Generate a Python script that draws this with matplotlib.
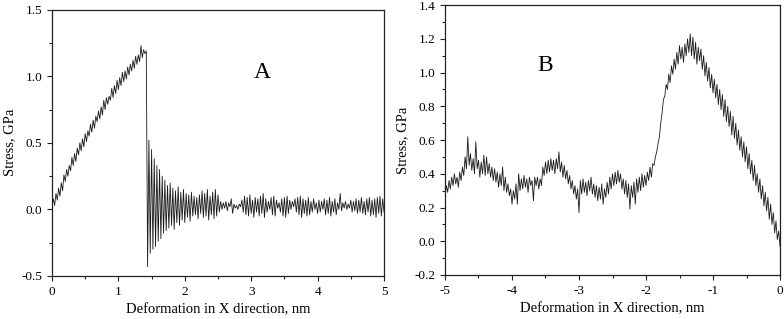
import matplotlib
matplotlib.use('Agg')
import matplotlib.pyplot as plt
import numpy as np
from matplotlib.ticker import MultipleLocator

plt.rcParams['font.family'] = ['Liberation Serif', 'DejaVu Serif']
plt.rcParams['axes.unicode_minus'] = False

# panel A: stress vs deformation (0..5 nm, step 0.02)
stress_a = [
    0.02, 0.08, 0.03, 0.12, 0.07, 0.16, 0.10, 0.20, 0.14, 0.26, 0.21, 0.30, 0.25, 0.33, 0.29, 0.39,
    0.33, 0.42, 0.36, 0.46, 0.41, 0.50, 0.44, 0.53, 0.47, 0.57, 0.51, 0.59, 0.55, 0.64, 0.58, 0.67,
    0.61, 0.70, 0.66, 0.74, 0.68, 0.77, 0.71, 0.82, 0.75, 0.84, 0.79, 0.85, 0.82, 0.91, 0.84, 0.93,
    0.87, 0.97, 0.90, 0.99, 0.93, 1.03, 0.96, 1.04, 0.98, 1.07, 1.01, 1.09, 1.04, 1.12, 1.06, 1.15,
    1.09, 1.16, 1.11, 1.23, 1.14, 1.20, 1.17, 1.19, -0.43, 0.52, -0.33, 0.45, -0.30, 0.38, -0.28, 0.33,
    -0.24, 0.30, -0.22, 0.25, -0.18, 0.22, -0.16, 0.18, -0.14, 0.20, -0.12, 0.16, -0.15, 0.14, -0.10, 0.17,
    -0.12, 0.13, -0.08, 0.15, -0.10, 0.12, -0.06, 0.11, -0.09, 0.13, -0.05, 0.10, -0.04, 0.09, -0.07, 0.11,
    -0.03, 0.14, -0.06, 0.12, -0.05, 0.15, -0.08, 0.10, -0.04, 0.13, -0.07, 0.15, -0.05, 0.11, -0.02, 0.06,
    0.00, 0.05, 0.01, 0.06, -0.01, 0.05, 0.02, 0.08, -0.03, 0.04, 0.01, 0.03, 0.00, 0.04, 0.02, 0.07,
    -0.02, 0.10, -0.04, 0.09, -0.05, 0.11, -0.03, 0.07, -0.06, 0.09, -0.02, 0.08, -0.05, 0.10, -0.03, 0.12,
    -0.06, 0.08, -0.02, 0.06, 0.00, 0.09, -0.04, 0.10, -0.05, 0.07, 0.01, 0.05, -0.02, 0.08, -0.05, 0.09,
    -0.06, 0.10, -0.03, 0.07, 0.00, 0.06, 0.02, 0.08, -0.02, 0.09, -0.04, 0.10, -0.06, 0.08, -0.03, 0.07,
    -0.05, 0.09, -0.04, 0.06, -0.02, 0.08, 0.00, 0.05, -0.03, 0.07, -0.02, 0.06, 0.00, 0.08, -0.04, 0.07,
    -0.03, 0.09, -0.05, 0.06, -0.02, 0.08, -0.04, 0.05, 0.00, 0.12, -0.01, 0.05, 0.01, 0.06, 0.00, 0.04,
    0.01, 0.07, -0.02, 0.06, -0.01, 0.08, -0.03, 0.07, -0.02, 0.09, -0.03, 0.06, -0.04, 0.08, -0.02, 0.09,
    -0.05, 0.07, -0.04, 0.08, -0.06, 0.09, -0.03, 0.10, -0.05, 0.08, -0.02,
]
defo_a = np.linspace(0, 5, len(stress_a))

# panel B: stress vs deformation (-5..0 nm, step 0.02)
stress_b = [
    0.26, 0.33, 0.29, 0.36, 0.31, 0.38, 0.33, 0.40, 0.34, 0.38, 0.32, 0.41, 0.36, 0.44, 0.39, 0.50,
    0.43, 0.62, 0.45, 0.52, 0.42, 0.49, 0.40, 0.59, 0.43, 0.48, 0.38, 0.47, 0.40, 0.51, 0.39, 0.50,
    0.40, 0.46, 0.38, 0.44, 0.36, 0.43, 0.35, 0.41, 0.32, 0.40, 0.33, 0.44, 0.30, 0.38, 0.29, 0.34,
    0.27, 0.31, 0.22, 0.30, 0.25, 0.34, 0.22, 0.40, 0.30, 0.37, 0.31, 0.39, 0.32, 0.37, 0.29, 0.38,
    0.33, 0.36, 0.24, 0.38, 0.33, 0.38, 0.31, 0.37, 0.33, 0.44, 0.39, 0.47, 0.40, 0.48, 0.41, 0.49,
    0.42, 0.48, 0.40, 0.49, 0.43, 0.53, 0.41, 0.47, 0.38, 0.45, 0.37, 0.42, 0.34, 0.39, 0.31, 0.36,
    0.28, 0.33, 0.25, 0.31, 0.17, 0.36, 0.28, 0.37, 0.29, 0.35, 0.27, 0.36, 0.30, 0.38, 0.28, 0.34,
    0.26, 0.33, 0.24, 0.32, 0.25, 0.34, 0.22, 0.31, 0.26, 0.35, 0.28, 0.38, 0.31, 0.40, 0.33, 0.41,
    0.34, 0.42, 0.35, 0.40, 0.31, 0.37, 0.28, 0.36, 0.26, 0.34, 0.19, 0.33, 0.26, 0.35, 0.22, 0.37,
    0.29, 0.38, 0.30, 0.40, 0.32, 0.39, 0.33, 0.41, 0.36, 0.44, 0.38, 0.46, 0.45, 0.50, 0.53, 0.58,
    0.62, 0.70, 0.76, 0.84, 0.86, 0.93, 0.90, 0.99, 0.94, 1.04, 0.99, 1.08, 1.02, 1.12, 1.05, 1.16,
    1.08, 1.15, 1.06, 1.17, 1.10, 1.20, 1.12, 1.23, 1.10, 1.21, 1.08, 1.18, 1.05, 1.15, 1.07, 1.14,
    1.02, 1.10, 0.98, 1.06, 0.95, 1.03, 0.91, 0.99, 0.88, 0.96, 0.85, 0.93, 0.81, 0.90, 0.78, 0.87,
    0.74, 0.84, 0.71, 0.80, 0.68, 0.77, 0.63, 0.74, 0.61, 0.70, 0.57, 0.66, 0.54, 0.62, 0.50, 0.59,
    0.47, 0.56, 0.43, 0.52, 0.40, 0.48, 0.36, 0.45, 0.33, 0.40, 0.29, 0.37, 0.25, 0.33, 0.21, 0.29,
    0.18, 0.26, 0.13, 0.22, 0.10, 0.17, 0.05, 0.12, 0.01, 0.06, -0.03,
]
defo_b = np.linspace(-5, 0, len(stress_b))

xlabel = 'Deformation in X direction, nm'
ylabel = 'Stress, GPa'


def style_axes(ax):
    for sp in ax.spines.values():
        sp.set_linewidth(0.9)
        sp.set_color('#222222')
    ax.tick_params(which='both', direction='out', top=False, right=False,
                   labelsize=9.5, width=0.8, color='#222222')
    ax.tick_params(which='major', length=3.5)
    ax.tick_params(which='minor', length=2)
    ax.set_xlabel(xlabel, fontsize=10.5)
    ax.set_ylabel(ylabel, fontsize=10.5)


fig = plt.figure(figsize=(7.84, 3.19), dpi=100)

ax1 = fig.add_axes([0.0663, 0.1348, 0.4235, 0.8348])
ax1.plot(defo_a, stress_a, color='#1a1a1a', linewidth=0.6)
ax1.set_xlim(0, 5)
ax1.set_ylim(-0.5, 1.5)
ax1.xaxis.set_major_locator(MultipleLocator(1))
ax1.xaxis.set_minor_locator(MultipleLocator(0.5))
ax1.yaxis.set_major_locator(MultipleLocator(0.5))
ax1.yaxis.set_minor_locator(MultipleLocator(0.25))
ax1.text(3.16, 1.03, 'A', fontsize=17, ha='center', va='center')
style_axes(ax1)

ax2 = fig.add_axes([0.5676, 0.138, 0.4273, 0.846])
ax2.plot(defo_b, stress_b, color='#1a1a1a', linewidth=0.6)
ax2.set_xlim(-5, 0)
ax2.set_ylim(-0.2, 1.4)
ax2.xaxis.set_major_locator(MultipleLocator(1))
ax2.xaxis.set_minor_locator(MultipleLocator(0.5))
ax2.yaxis.set_major_locator(MultipleLocator(0.2))
ax2.yaxis.set_minor_locator(MultipleLocator(0.1))
ax2.text(-3.51, 1.04, 'B', fontsize=17, ha='center', va='center')
style_axes(ax2)

fig.savefig('out.png', dpi=100)
